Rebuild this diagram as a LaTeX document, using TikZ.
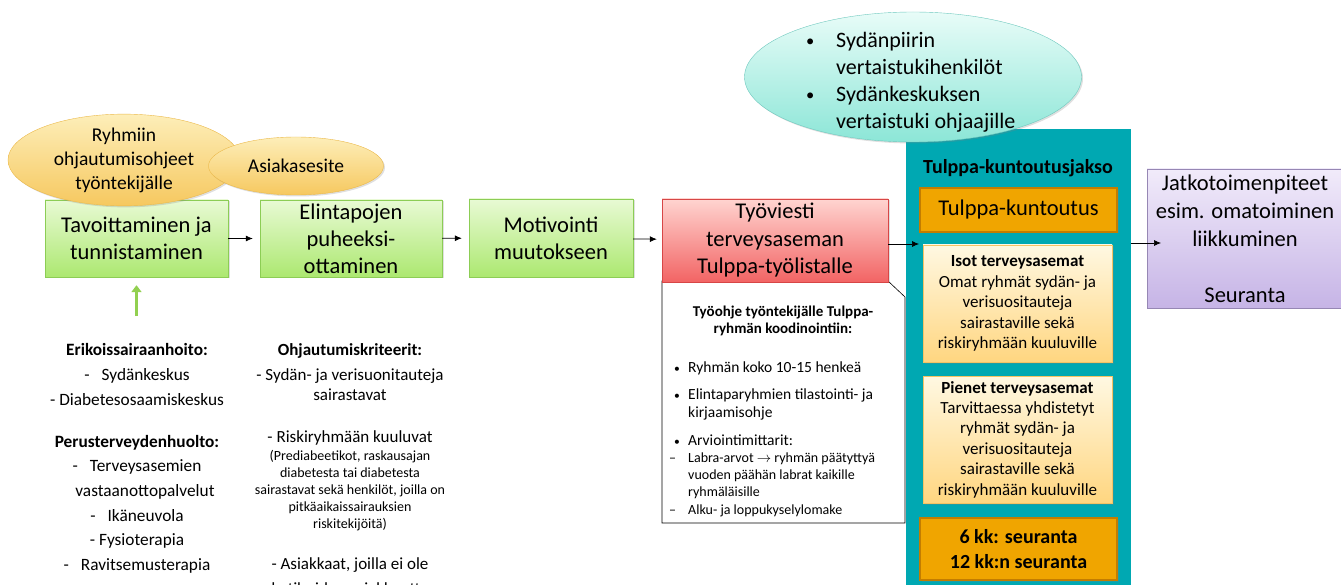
\documentclass[tikz,border=0pt]{standalone}
\usepackage{fontspec}
\usepackage{graphicx}
\setmainfont{Carlito}
\usetikzlibrary{arrows.meta,shapes.geometric,shadows}

\definecolor{vihrea1}{RGB}{232,250,212}
\definecolor{vihrea2}{RGB}{172,232,112}
\definecolor{vihreaviiva}{RGB}{140,205,85}
\definecolor{puna1}{RGB}{255,212,208}
\definecolor{puna2}{RGB}{242,100,100}
\definecolor{punaviiva}{RGB}{215,70,70}
\definecolor{kelta1}{RGB}{253,238,185}
\definecolor{kelta2}{RGB}{246,200,95}
\definecolor{keltaviiva}{RGB}{235,185,75}
\definecolor{turkoosi}{RGB}{0,168,178}
\definecolor{minttu1}{RGB}{232,252,248}
\definecolor{minttu2}{RGB}{140,230,215}
\definecolor{minttuviiva}{RGB}{110,200,190}
\definecolor{oranssi}{RGB}{240,165,0}
\definecolor{oranssiviiva}{RGB}{195,125,0}
\definecolor{vaalea1}{RGB}{255,248,226}
\definecolor{vaalea2}{RGB}{255,214,128}
\definecolor{vaaleaviiva}{RGB}{245,195,100}
\definecolor{lila1}{RGB}{241,235,250}
\definecolor{lila2}{RGB}{198,180,230}
\definecolor{lilaviiva}{RGB}{150,135,180}
\definecolor{nuolivihrea}{RGB}{146,208,80}

\newcommand{\pallo}{\raisebox{0.12ex}{\scalebox{0.75}{\textbullet}}}

\begin{document}
\begin{tikzpicture}[x=1pt, y=-1pt,
  varjo/.style={drop shadow={opacity=0.25, shadow xshift=1.5pt, shadow yshift=-1.5pt}},
  greenbox/.style={draw=vihreaviiva, top color=vihrea1, bottom color=vihrea2, varjo,
    minimum height=77pt, align=center, inner sep=0pt, font=\fontsize{22.5}{27}\selectfont},
  redbox/.style={draw=punaviiva, top color=puna1, bottom color=puna2, varjo,
    minimum width=226pt, minimum height=83pt, align=center, inner sep=0pt,
    font=\fontsize{22.5}{27.5}\selectfont},
  lilabox/.style={draw=lilaviiva, top color=lila1, bottom color=lila2, varjo,
    minimum width=196pt, minimum height=139pt, align=center, inner sep=0pt,
    font=\fontsize{22.5}{28}\selectfont},
  orangebox/.style={draw=oranssiviiva, line width=1.6pt, fill=oranssi, varjo,
    minimum width=197pt, align=center, inner sep=0pt},
  lightbox/.style={draw=vaaleaviiva, top color=vaalea1, bottom color=vaalea2, varjo,
    minimum width=189pt, align=center, inner sep=0pt,
    font=\fontsize{17}{20.4}\selectfont},
  ovalnode/.style={ellipse, draw=keltaviiva, top color=kelta1, bottom color=kelta2, varjo,
    align=center, inner sep=0pt, font=\fontsize{19.5}{24}\selectfont},
  arr/.style={-{Latex[length=7pt,width=6pt]}, line width=0.7pt, black},
  teksti/.style={align=center, inner sep=0pt, anchor=north, font=\fontsize{17.3}{25}\selectfont}]
\useasboundingbox (0,0) rectangle (1341,585);

%teal column
  \node[fill=turkoosi, minimum width=225pt, minimum height=460pt, anchor=north, inner sep=0pt]
    (jakso) at (1018.5,129) {};

%callout under the red box
  \draw[fill=white, line width=0.6pt] (662,281) -- (888,281) -- (905,297) -- (905,523)
    -- (662,523) -- cycle;

%main chain
  \node[greenbox, minimum width=183pt] (tav) at (136.5,238.5) {Tavoittaminen ja\\tunnistaminen};
  \node[greenbox, minimum width=182pt] (elin) at (351,238.5) {Elintapojen\\puheeksi-\\ottaminen};
  \node[greenbox, minimum width=164pt, minimum height=78pt] (moti) at (551,238) {Motivointi\\muutokseen};
  \node[redbox] (tyov) at (775,240.5) {Työviesti\\terveysaseman\\Tulppa-työlistalle};
  \node[lilabox] (jatko) at (1245,238.5) {Jatkotoimenpiteet\\esim. omatoiminen\\liikkuminen\\[28pt]Seuranta};

%inside the teal column
  \node[inner sep=0pt, font=\fontsize{20}{22}\bfseries] (jaksonimi) at (1018,168) {Tulppa-kuntoutusjakso};
  \node[orangebox, minimum height=44pt, font=\fontsize{22.5}{24}\selectfont] (kunt) at (1018.5,210) {Tulppa-kuntoutus};
  \node[lightbox, minimum height=117pt] (isot) at (1017.5,303.5)
    {\textbf{Isot terveysasemat}\\Omat ryhmät sydän- ja\\verisuositauteja\\sairastaville sekä\\riskiryhmään kuuluville};
  \node[lightbox, minimum height=127pt] (pien) at (1017.5,439.5)
    {\textbf{Pienet terveysasemat}\\Tarvittaessa yhdistetyt\\ryhmät sydän- ja\\verisuositauteja\\sairastaville sekä\\riskiryhmään kuuluville};
  \node[orangebox, minimum height=62pt, font=\fontsize{20}{25}\bfseries] (seur) at (1018.5,549)
    {6 kk: seuranta\\12 kk:n seuranta};

%ellipses
  \node[ovalnode, minimum width=232pt, minimum height=82pt] (ryhm) at (124,160)
    {Ryhmiin\\ohjautumisohjeet\\työntekijälle};
  \node[ovalnode, minimum width=175pt, minimum height=58pt] (asia) at (296,166) {Asiakasesite};
  \node[ellipse, draw=minttuviiva, top color=minttu1, bottom color=minttu2, varjo,
    minimum width=337pt, minimum height=130pt, inner sep=0pt] (vert) at (913,77) {};
  \node[align=left, inner sep=0pt, anchor=north west, font=\fontsize{22}{27}\selectfont]
    (vertteksti) at (806,32)
    {\makebox[30pt][l]{\pallo}Sydänpiirin\\\hspace*{30pt}vertaistukihenkilöt\\
     \makebox[30pt][l]{\pallo}Sydänkeskuksen\\\hspace*{30pt}vertaistuki ohjaajille};

%arrows
  \coordinate (in1) at (919,244);
  \coordinate (out1) at (1161,243);
  \coordinate (alku) at (136.5,316);
  \draw[arr, shorten >=7pt] (tav) -- (elin);
  \draw[arr, shorten >=7pt] (elin) -- (moti);
  \draw[arr, shorten >=5pt] (moti) -- (tyov);
  \draw[arr] (tyov.east |- in1) -- (in1);
  \draw[arr] (jakso.east |- out1) -- (out1);
  \draw[-{Triangle[length=7pt,width=10pt]}, nuolivihrea, line width=3pt, shorten >=8pt] (alku) -- (tav.south);

%callout text
  \node[inner sep=0pt, align=center, anchor=north, font=\fontsize{15}{17.5}\bfseries] (ohjeotsikko)
    at (783,305.5) {Työohje työntekijälle Tulppa-\\ryhmän koodinointiin:};
  \node[inner sep=0pt, align=left, anchor=north west, font=\fontsize{15.5}{18}\selectfont] (ohjelista)
    at (669,362)
    {\makebox[19pt][l]{\hspace{5pt}\pallo}Ryhmän koko 10-15 henkeä\\[9pt]
     \makebox[19pt][l]{\hspace{5pt}\pallo}Elintaparyhmien tilastointi- ja\\
     \hspace*{19pt}kirjaamisohje\\[10pt]
     \makebox[19pt][l]{\hspace{5pt}\pallo}Arviointimittarit:\\[-1pt]
     {\fontsize{14}{17}\selectfont\makebox[19pt][l]{–}Labra-arvot $\rightarrow$ ryhmän päätyttyä}\\[-1pt]
     {\fontsize{14}{17}\selectfont\hspace*{19pt}vuoden päähän labrat kaikille}\\[-1pt]
     {\fontsize{14}{17}\selectfont\hspace*{19pt}ryhmäläisille}\\[0pt]
     {\fontsize{14}{17}\selectfont\makebox[19pt][l]{–}Alku- ja loppukyselylomake}};

%left column
  \node[teksti] (erik) at (137,343)
    {\textbf{Erikoissairaanhoito:}\\-\hspace{12pt}Sydänkeskus\\- Diabetesosaamiskeskus};
  \node[teksti, font=\fontsize{17.3}{24.6}\selectfont] (perus) at (137,435)
    {\textbf{Perusterveydenhuolto:}\\-\hspace{12pt}Terveysasemien\\\hspace*{16pt}vastaanottopalvelut\\
     -\hspace{12pt}Ikäneuvola\\- Fysioterapia\\-\hspace{12pt}Ravitsemusterapia};

%middle column
  \node[teksti, font=\fontsize{17}{20.5}\selectfont] (krit) at (350,343)
    {\textbf{Ohjautumiskriteerit:}\\[4.5pt]- Sydän- ja verisuonitauteja\\sairastavat};
  \node[teksti, font=\fontsize{17}{20}\selectfont] (riski) at (350,430) {- Riskiryhmään kuuluvat};
  \node[teksti, font=\fontsize{14}{17}\selectfont] (riskiselite) at (350,450)
    {(Prediabeetikot, raskausajan\\diabetesta tai diabetesta\\sairastavat sekä henkilöt, joilla on\\
     pitkäaikaissairauksien\\riskitekijöitä)};
  \node[teksti, font=\fontsize{17}{25}\selectfont] (asiak) at (350,557) {- Asiakkaat, joilla ei ole\\kotihoidon asiakkuutta};
\end{tikzpicture}
\end{document}
